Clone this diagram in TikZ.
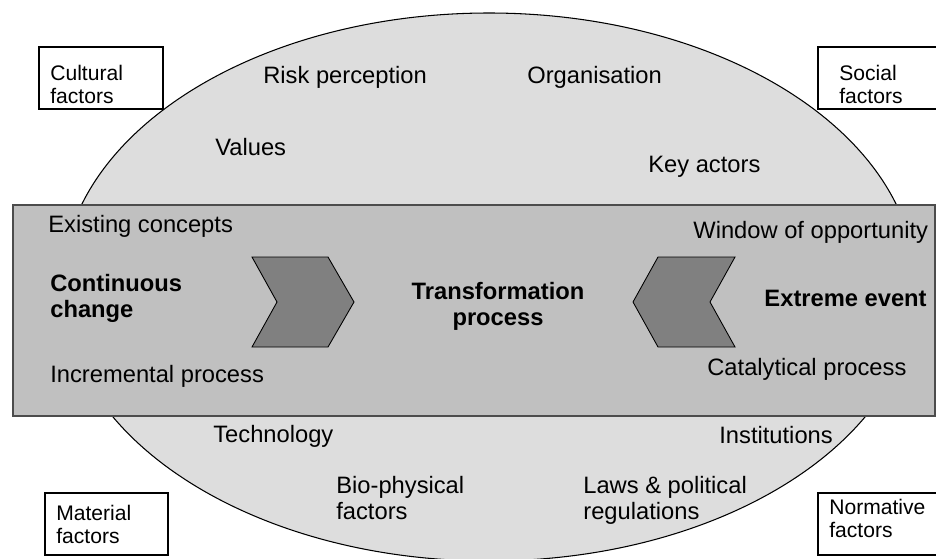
\documentclass[tikz,border=0pt]{standalone}
\usepackage{fontspec}
\setmainfont{Liberation Sans}
\usetikzlibrary{positioning}
\definecolor{ellipsegray}{HTML}{DDDDDD}
\definecolor{bandgray}{HTML}{C0C0C0}
\definecolor{chevrongray}{HTML}{808080}

\begin{document}
\begin{tikzpicture}[x=0.02cm, y=-0.02cm,
  every node/.style={inner sep=0pt, font=\fontsize{13.5}{14.8}\selectfont},
  txt/.style={anchor=base west, align=left},
  boldtxt/.style={align=left, font=\fontsize{13.5}{14.8}\selectfont\bfseries},
  factortxt/.style={anchor=base west, align=left, font=\fontsize{12}{13}\selectfont},
  factorbox/.style={draw=black, line width=0.6pt, fill=white},
  chevron/.style={draw=black, fill=chevrongray, line width=0.5pt}]
  \useasboundingbox (0,0) rectangle (936,558);
  \clip (0,0) rectangle (936,558);

  % Background: ellipse and band
  \draw[fill=ellipsegray, line width=0.6pt] (489,287) ellipse [x radius=427, y radius=274];
  \draw[fill=bandgray, draw=black!70, line width=0.8pt] (13,205) rectangle (935,416);

  % Chevrons
  \draw[chevron] (252,257) -- (328,257) -- (354,302) -- (328,347) -- (252,347) -- (277,302) -- cycle;
  \draw[chevron] (735,257) -- (658,257) -- (633,302) -- (658,347) -- (735,347) -- (710,302) -- cycle;

  % Corner boxes (base = last line)
  \draw[factorbox] (39,47) rectangle (163,109);
  \draw[factorbox] (818,47) rectangle (945,109);
  \draw[factorbox] (45,493) rectangle (168,555);
  \draw[factorbox] (818,493) rectangle (945,555);
  \node[factortxt] (cult) at (50,103) {Cultural\\factors};
  \node[factortxt] (soc) at (839,103) {Social\\factors};
  \node[factortxt] (mat) at (56,543) {Material\\factors};
  \node[factortxt] (norm) at (829,537) {Normative\\factors};

  % Upper half of the ellipse
  \node[txt] (risk) at (263,83) {Risk perception};
  \node[txt] (org) at (527,83) {Organisation};
  \node[txt] (values) at (215,155) {Values};
  \node[txt] (actors) at (648,172) {Key actors};

  % Band
  \node[txt] (exist) at (48,232) {Existing concepts};
  \node[boldtxt, anchor=base west] (cont) at (50,317) {Continuous\\change};
  \node[txt] (incr) at (50,382) {Incremental process};
  \node[boldtxt, anchor=base, align=center] (trans) at (498,325) {Transformation\\process};
  \node[txt] (window) at (693,238) {Window of opportunity};
  \node[boldtxt, anchor=base east] (extreme) at (927,306) {Extreme event};
  \node[txt] (cata) at (707,375) {Catalytical process};

  % Lower half of the ellipse
  \node[txt] (tech) at (213,442) {Technology};
  \node[txt] (inst) at (719,443) {Institutions};
  \node[txt] (bio) at (336,519) {Bio-physical\\factors};
  \node[txt] (laws) at (583,519) {Laws \& political\\regulations};
\end{tikzpicture}
\end{document}
